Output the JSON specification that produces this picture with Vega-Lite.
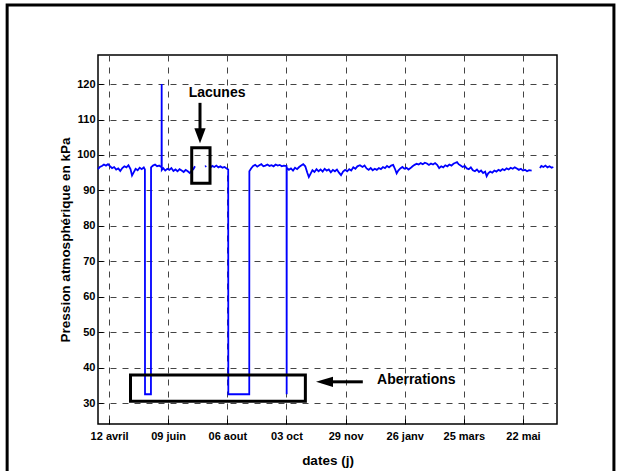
{
  "$schema": "https://vega.github.io/schema/vega-lite/v6.json",
  "width": 459,
  "height": 369,
  "autosize": "none",
  "padding": {"left": 98, "top": 55, "right": 62, "bottom": 47},
  "background": "white",
  "config": {
    "font": "Liberation Sans",
    "view": {"stroke": "black", "strokeWidth": 1.5},
    "axis": {
      "domain": false,
      "grid": true,
      "gridColor": "#444444",
      "gridOpacity": 1,
      "gridDash": [6, 6],
      "gridWidth": 1,
      "ticks": true,
      "tickSize": -5,
      "tickColor": "black",
      "tickWidth": 1,
      "labelFont": "Liberation Sans",
      "labelFontWeight": "bold",
      "labelFontSize": 11,
      "labelColor": "black",
      "titleFont": "Liberation Sans",
      "titleFontWeight": "bold",
      "titleFontSize": 13.5,
      "titleColor": "black"
    }
  },
  "datasets": {
    "series": [
      {"seg": "a", "day": -10.8, "p": 96.0}, {"seg": "a", "day": -9, "p": 96.6}, {"seg": "a", "day": -7, "p": 96.9}, {"seg": "a", "day": -5, "p": 97.3}, {"seg": "a", "day": -3, "p": 97.0}, {"seg": "a", "day": -1, "p": 97.4}, {"seg": "a", "day": 1, "p": 96.8}, {"seg": "a", "day": 3, "p": 96.3}, {"seg": "a", "day": 5, "p": 96.6}, {"seg": "a", "day": 7, "p": 95.9}, {"seg": "a", "day": 9, "p": 96.2}, {"seg": "a", "day": 11, "p": 95.5}, {"seg": "a", "day": 13, "p": 96.3}, {"seg": "a", "day": 15, "p": 96.8}, {"seg": "a", "day": 17, "p": 96.5}, {"seg": "a", "day": 19, "p": 97.1}, {"seg": "a", "day": 21, "p": 96.0}, {"seg": "a", "day": 22.5, "p": 94.2}, {"seg": "a", "day": 24, "p": 95.0}, {"seg": "a", "day": 26, "p": 96.1}, {"seg": "a", "day": 28, "p": 95.7}, {"seg": "a", "day": 30, "p": 96.4}, {"seg": "a", "day": 32, "p": 96.0}, {"seg": "a", "day": 34, "p": 96.5}, {"seg": "a", "day": 35.1, "p": 95.9}, {"seg": "a", "day": 35.2, "p": 32.5}, {"seg": "a", "day": 41.0, "p": 32.5}, {"seg": "a", "day": 41.1, "p": 96.5}, {"seg": "a", "day": 43, "p": 97.0}, {"seg": "a", "day": 45, "p": 97.3}, {"seg": "a", "day": 47, "p": 96.8}, {"seg": "a", "day": 49, "p": 97.0}, {"seg": "a", "day": 51.4, "p": 96.5}, {"seg": "a", "day": 51.5, "p": 120.0}, {"seg": "a", "day": 51.6, "p": 95.8}, {"seg": "a", "day": 53, "p": 96.3}, {"seg": "a", "day": 55, "p": 95.6}, {"seg": "a", "day": 57, "p": 96.1}, {"seg": "a", "day": 59, "p": 95.8}, {"seg": "a", "day": 61, "p": 96.3}, {"seg": "a", "day": 63, "p": 95.5}, {"seg": "a", "day": 65, "p": 95.9}, {"seg": "a", "day": 67, "p": 95.4}, {"seg": "a", "day": 69, "p": 96.0}, {"seg": "a", "day": 71, "p": 95.6}, {"seg": "a", "day": 73, "p": 95.2}, {"seg": "a", "day": 75, "p": 95.8}, {"seg": "a", "day": 77, "p": 95.4}, {"seg": "a", "day": 79, "p": 94.9}, {"seg": "a", "day": 81, "p": 95.6}, {"seg": "a", "day": 82.5, "p": 96.0}, {"seg": "a", "day": 84.1, "p": 96.8},
      {"seg": "b", "day": 93.9, "p": 96.7}, {"seg": "b", "day": 95.2, "p": 96.9},
      {"seg": "c", "day": 99.5, "p": 96.5}, {"seg": "c", "day": 101, "p": 96.9}, {"seg": "c", "day": 103, "p": 96.6}, {"seg": "c", "day": 105, "p": 97.0}, {"seg": "c", "day": 107, "p": 96.5}, {"seg": "c", "day": 109, "p": 96.8}, {"seg": "c", "day": 111, "p": 96.4}, {"seg": "c", "day": 113, "p": 96.6}, {"seg": "c", "day": 115, "p": 96.2}, {"seg": "c", "day": 116.6, "p": 95.9}, {"seg": "c", "day": 116.7, "p": 32.5}, {"seg": "c", "day": 137.2, "p": 32.5}, {"seg": "c", "day": 137.3, "p": 95.4}, {"seg": "c", "day": 139, "p": 96.2}, {"seg": "c", "day": 141, "p": 96.9}, {"seg": "c", "day": 143, "p": 97.2}, {"seg": "c", "day": 145, "p": 96.7}, {"seg": "c", "day": 147, "p": 97.1}, {"seg": "c", "day": 149, "p": 97.4}, {"seg": "c", "day": 151, "p": 96.8}, {"seg": "c", "day": 153, "p": 97.0}, {"seg": "c", "day": 155, "p": 97.3}, {"seg": "c", "day": 157, "p": 96.9}, {"seg": "c", "day": 159, "p": 97.1}, {"seg": "c", "day": 161, "p": 96.8}, {"seg": "c", "day": 163, "p": 97.3}, {"seg": "c", "day": 165, "p": 97.0}, {"seg": "c", "day": 167, "p": 97.2}, {"seg": "c", "day": 169, "p": 96.8}, {"seg": "c", "day": 171, "p": 97.0}, {"seg": "c", "day": 173.7, "p": 96.9}, {"seg": "c", "day": 173.8, "p": 32.5}, {"seg": "c", "day": 173.9, "p": 96.4}, {"seg": "c", "day": 176, "p": 95.8}, {"seg": "c", "day": 178, "p": 96.2}, {"seg": "c", "day": 180, "p": 95.6}, {"seg": "c", "day": 182, "p": 96.4}, {"seg": "c", "day": 184, "p": 96.0}, {"seg": "c", "day": 186, "p": 96.6}, {"seg": "c", "day": 188, "p": 97.0}, {"seg": "c", "day": 190, "p": 97.4}, {"seg": "c", "day": 192, "p": 96.8}, {"seg": "c", "day": 194, "p": 95.0}, {"seg": "c", "day": 195.5, "p": 93.8}, {"seg": "c", "day": 197, "p": 94.6}, {"seg": "c", "day": 199, "p": 95.7}, {"seg": "c", "day": 201, "p": 95.2}, {"seg": "c", "day": 203, "p": 96.0}, {"seg": "c", "day": 205, "p": 95.4}, {"seg": "c", "day": 207, "p": 95.9}, {"seg": "c", "day": 209, "p": 95.3}, {"seg": "c", "day": 211, "p": 96.1}, {"seg": "c", "day": 213, "p": 95.6}, {"seg": "c", "day": 215, "p": 95.9}, {"seg": "c", "day": 217, "p": 95.1}, {"seg": "c", "day": 219, "p": 95.8}, {"seg": "c", "day": 221, "p": 95.4}, {"seg": "c", "day": 223, "p": 95.9}, {"seg": "c", "day": 225, "p": 95.0}, {"seg": "c", "day": 227, "p": 94.3}, {"seg": "c", "day": 229, "p": 95.3}, {"seg": "c", "day": 231, "p": 95.8}, {"seg": "c", "day": 233, "p": 95.4}, {"seg": "c", "day": 235, "p": 96.0}, {"seg": "c", "day": 237, "p": 95.6}, {"seg": "c", "day": 239, "p": 96.5}, {"seg": "c", "day": 241, "p": 96.1}, {"seg": "c", "day": 243, "p": 96.8}, {"seg": "c", "day": 245.5, "p": 97.1}, {"seg": "c", "day": 248, "p": 96.6}, {"seg": "c", "day": 250, "p": 97.0}, {"seg": "c", "day": 252, "p": 96.2}, {"seg": "c", "day": 254, "p": 95.8}, {"seg": "c", "day": 256, "p": 96.3}, {"seg": "c", "day": 258, "p": 95.7}, {"seg": "c", "day": 260, "p": 96.1}, {"seg": "c", "day": 262, "p": 95.8}, {"seg": "c", "day": 264, "p": 96.3}, {"seg": "c", "day": 266, "p": 96.0}, {"seg": "c", "day": 268, "p": 96.6}, {"seg": "c", "day": 270, "p": 96.3}, {"seg": "c", "day": 272, "p": 96.9}, {"seg": "c", "day": 274, "p": 96.5}, {"seg": "c", "day": 276, "p": 97.0}, {"seg": "c", "day": 278, "p": 97.2}, {"seg": "c", "day": 280, "p": 95.9}, {"seg": "c", "day": 281.4, "p": 94.8}, {"seg": "c", "day": 283, "p": 95.6}, {"seg": "c", "day": 285, "p": 96.2}, {"seg": "c", "day": 287, "p": 96.6}, {"seg": "c", "day": 289, "p": 96.1}, {"seg": "c", "day": 291, "p": 96.4}, {"seg": "c", "day": 293, "p": 95.9}, {"seg": "c", "day": 295, "p": 96.3}, {"seg": "c", "day": 297, "p": 96.8}, {"seg": "c", "day": 299, "p": 97.2}, {"seg": "c", "day": 301, "p": 97.5}, {"seg": "c", "day": 303, "p": 97.3}, {"seg": "c", "day": 305, "p": 97.7}, {"seg": "c", "day": 307, "p": 97.4}, {"seg": "c", "day": 309, "p": 97.8}, {"seg": "c", "day": 311, "p": 97.6}, {"seg": "c", "day": 313, "p": 97.2}, {"seg": "c", "day": 315, "p": 97.6}, {"seg": "c", "day": 317, "p": 97.3}, {"seg": "c", "day": 319, "p": 97.7}, {"seg": "c", "day": 321, "p": 97.2}, {"seg": "c", "day": 323, "p": 96.3}, {"seg": "c", "day": 325, "p": 96.8}, {"seg": "c", "day": 327, "p": 96.5}, {"seg": "c", "day": 329, "p": 97.1}, {"seg": "c", "day": 331, "p": 96.8}, {"seg": "c", "day": 333, "p": 97.3}, {"seg": "c", "day": 335, "p": 97.0}, {"seg": "c", "day": 337, "p": 97.5}, {"seg": "c", "day": 339, "p": 97.8}, {"seg": "c", "day": 340.5, "p": 98.0}, {"seg": "c", "day": 342, "p": 97.4}, {"seg": "c", "day": 344, "p": 97.0}, {"seg": "c", "day": 346, "p": 96.6}, {"seg": "c", "day": 348, "p": 96.9}, {"seg": "c", "day": 350, "p": 96.2}, {"seg": "c", "day": 352, "p": 96.0}, {"seg": "c", "day": 354, "p": 96.5}, {"seg": "c", "day": 356, "p": 95.7}, {"seg": "c", "day": 358, "p": 95.4}, {"seg": "c", "day": 360, "p": 95.9}, {"seg": "c", "day": 362, "p": 95.2}, {"seg": "c", "day": 364, "p": 95.6}, {"seg": "c", "day": 366, "p": 94.9}, {"seg": "c", "day": 368, "p": 95.3}, {"seg": "c", "day": 369.5, "p": 94.0}, {"seg": "c", "day": 371, "p": 94.8}, {"seg": "c", "day": 373, "p": 95.3}, {"seg": "c", "day": 375, "p": 95.0}, {"seg": "c", "day": 377, "p": 95.6}, {"seg": "c", "day": 379, "p": 95.3}, {"seg": "c", "day": 381, "p": 95.8}, {"seg": "c", "day": 383, "p": 95.5}, {"seg": "c", "day": 385, "p": 96.0}, {"seg": "c", "day": 387, "p": 95.7}, {"seg": "c", "day": 389, "p": 96.2}, {"seg": "c", "day": 391, "p": 95.9}, {"seg": "c", "day": 393, "p": 96.4}, {"seg": "c", "day": 395, "p": 96.1}, {"seg": "c", "day": 397, "p": 96.5}, {"seg": "c", "day": 399, "p": 96.2}, {"seg": "c", "day": 401, "p": 95.8}, {"seg": "c", "day": 403, "p": 96.1}, {"seg": "c", "day": 405, "p": 95.6}, {"seg": "c", "day": 407, "p": 95.8}, {"seg": "c", "day": 409, "p": 95.4}, {"seg": "c", "day": 411, "p": 95.7}, {"seg": "c", "day": 413.5, "p": 95.6},
      {"seg": "d", "day": 421.6, "p": 96.3}, {"seg": "d", "day": 423, "p": 96.9}, {"seg": "d", "day": 425, "p": 96.6}, {"seg": "d", "day": 427, "p": 97.0}, {"seg": "d", "day": 429, "p": 96.5}, {"seg": "d", "day": 431, "p": 96.8}, {"seg": "d", "day": 433, "p": 96.4}, {"seg": "d", "day": 434.7, "p": 96.6}
    ],
    "boxes": [
      {"name": "Lacunes", "x1": 80.9, "x2": 98.8, "y1": 92.0, "y2": 102.0},
      {"name": "Aberrations", "x1": 21.0, "x2": 192.1, "y1": 30.5, "y2": 37.9}
    ],
    "frame": [
      {"x1": -99.7, "x2": 494.0, "y1": 8.0, "y2": 142.3}
    ],
    "arrows": [
      {"name": "Lacunes", "x1": 89.0, "x2": 89.0, "y1": 114.7, "y2": 107.0},
      {"name": "Aberrations", "x1": 248.3, "x2": 219.0, "y1": 36.0, "y2": 36.0}
    ],
    "headDown": [{"x": 89.0, "y": 105.4}],
    "headLeft": [{"x": 210.8, "y": 36.0}],
    "notes": [
      {"text": "Lacunes", "x": 105.7, "y": 117.6}
    ],
    "notesLeft": [
      {"text": "Aberrations", "x": 262.2, "y": 36.4}
    ]
  },
  "layer": [
    {
      "data": {"name": "series"},
      "mark": {"type": "line", "color": "#0000ff", "strokeWidth": 1.8},
      "encoding": {
        "x": {
          "field": "day", "type": "quantitative",
          "scale": {"domain": [-10.8, 438.3], "nice": false, "zero": false},
          "axis": {
            "title": "dates (j)",
            "values": [0, 57.86, 115.71, 173.57, 231.43, 289.29, 347.14, 405],
            "labelExpr": "datum.value < 1 ? '12 avril' : datum.value < 60 ? '09 juin' : datum.value < 120 ? '06 aout' : datum.value < 180 ? '03 oct' : datum.value < 240 ? '29 nov' : datum.value < 300 ? '26 janv' : datum.value < 350 ? '25 mars' : '22 mai'",
            "labelPadding": 11,
            "labelBaseline": "top",
            "gridDash": [6, 6],
            "gridColor": "#444444",
            "titleX": 229.5,
            "titleY": 36,
            "titleBaseline": "middle"
          }
        },
        "y": {
          "field": "p", "type": "quantitative",
          "scale": {"domain": [24.1, 128.2], "nice": false, "zero": false},
          "axis": {
            "title": "Pression atmosphérique en kPa",
            "values": [30, 40, 50, 60, 70, 80, 90, 100, 110, 120],
            "labelPadding": 8,
            "gridDash": [6, 6],
            "gridColor": "#444444",
            "titleX": -33,
            "titleY": 184.5,
            "titleAngle": -90,
            "titleAlign": "center",
            "titleBaseline": "middle"
          }
        },
        "detail": {"field": "seg"}
      }
    },
    {
      "data": {"name": "boxes"},
      "mark": {"type": "rect", "fillOpacity": 0, "stroke": "black", "strokeWidth": 3},
      "encoding": {
        "x": {"field": "x1", "type": "quantitative", "scale": {"domain": [-10.8, 438.3], "nice": false, "zero": false}},
        "x2": {"field": "x2"},
        "y": {"field": "y1", "type": "quantitative", "scale": {"domain": [24.1, 128.2], "nice": false, "zero": false}},
        "y2": {"field": "y2"}
      }
    },
    {
      "data": {"name": "frame"},
      "mark": {"type": "rect", "fillOpacity": 0, "stroke": "black", "strokeWidth": 3, "clip": false},
      "encoding": {
        "x": {"field": "x1", "type": "quantitative", "scale": {"domain": [-10.8, 438.3], "nice": false, "zero": false}},
        "x2": {"field": "x2"},
        "y": {"field": "y1", "type": "quantitative", "scale": {"domain": [24.1, 128.2], "nice": false, "zero": false}},
        "y2": {"field": "y2"}
      }
    },
    {
      "data": {"name": "arrows"},
      "mark": {"type": "rule", "color": "black", "strokeWidth": 3},
      "encoding": {
        "x": {"field": "x1", "type": "quantitative", "scale": {"domain": [-10.8, 438.3], "nice": false, "zero": false}},
        "x2": {"field": "x2"},
        "y": {"field": "y1", "type": "quantitative", "scale": {"domain": [24.1, 128.2], "nice": false, "zero": false}},
        "y2": {"field": "y2"}
      }
    },
    {
      "data": {"name": "headDown"},
      "mark": {"type": "point", "shape": "M-0.75,-1L0.75,-1L0,1Z", "filled": true, "color": "black", "size": 225, "opacity": 1},
      "encoding": {
        "x": {"field": "x", "type": "quantitative", "scale": {"domain": [-10.8, 438.3], "nice": false, "zero": false}},
        "y": {"field": "y", "type": "quantitative", "scale": {"domain": [24.1, 128.2], "nice": false, "zero": false}}
      }
    },
    {
      "data": {"name": "headLeft"},
      "mark": {"type": "point", "shape": "M1,-0.6L1,0.6L-1,0Z", "filled": true, "color": "black", "size": 289, "opacity": 1},
      "encoding": {
        "x": {"field": "x", "type": "quantitative", "scale": {"domain": [-10.8, 438.3], "nice": false, "zero": false}},
        "y": {"field": "y", "type": "quantitative", "scale": {"domain": [24.1, 128.2], "nice": false, "zero": false}}
      }
    },
    {
      "data": {"name": "notes"},
      "mark": {"type": "text", "font": "Liberation Sans", "fontWeight": "bold", "fontSize": 14, "color": "black", "align": "center", "baseline": "middle"},
      "encoding": {
        "x": {"field": "x", "type": "quantitative", "scale": {"domain": [-10.8, 438.3], "nice": false, "zero": false}},
        "y": {"field": "y", "type": "quantitative", "scale": {"domain": [24.1, 128.2], "nice": false, "zero": false}},
        "text": {"field": "text"}
      }
    },
    {
      "data": {"name": "notesLeft"},
      "mark": {"type": "text", "font": "Liberation Sans", "fontWeight": "bold", "fontSize": 14, "color": "black", "align": "left", "baseline": "middle"},
      "encoding": {
        "x": {"field": "x", "type": "quantitative", "scale": {"domain": [-10.8, 438.3], "nice": false, "zero": false}},
        "y": {"field": "y", "type": "quantitative", "scale": {"domain": [24.1, 128.2], "nice": false, "zero": false}},
        "text": {"field": "text"}
      }
    }
  ]
}
